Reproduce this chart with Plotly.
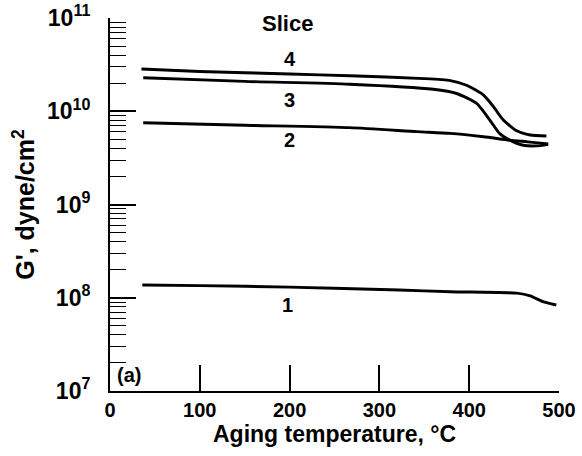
import math
import plotly.graph_objects as go

# Aging temperature (°C) and storage modulus G' (dyne/cm^2) per slice
t1 = [36, 100, 200, 322, 379, 453, 468, 482, 497]
g1 = [1.37e8, 1.35e8, 1.30e8, 1.21e8, 1.16e8, 1.12e8, 1.045e8, 9.08e7, 8.36e7]

t2 = [37, 150, 267, 342, 379, 416, 445, 465, 488]
g2 = [7.53e9, 7.08e9, 6.67e9, 6.04e9, 5.79e9, 5.33e9, 4.90e9, 4.70e9, 4.47e9]

t3 = [37, 150, 267, 360, 386, 408, 423, 434, 445, 460, 475, 488]
g3 = [2.29e10, 2.09e10, 1.95e10, 1.72e10, 1.55e10, 1.22e10, 8.05e9, 5.75e9, 4.90e9, 4.32e9, 4.25e9, 4.42e9]

t4 = [35, 100, 200, 267, 350, 379, 397, 416, 427, 438, 453, 468, 486]
g4 = [2.84e10, 2.67e10, 2.51e10, 2.40e10, 2.24e10, 2.13e10, 1.90e10, 1.49e10, 1.12e10, 8.05e9, 6.17e9, 5.56e9, 5.43e9]

series = [(t1, g1), (t2, g2), (t3, g3), (t4, g4)]
slice_labels = ["1", "2", "3", "4"]
label_x = [198, 200, 200, 200]
label_y = [8.3e7, 4.9e9, 1.32e10, 3.63e10]

xticks = [0, 100, 200, 300, 400, 500]
ydecades = [7, 8, 9, 10, 11]

FONT = "Liberation Sans, Arial, sans-serif"

fig = go.Figure()
for t, g in series:
    fig.add_trace(go.Scatter(x=t, y=g, mode="lines",
                             line=dict(color="black", width=2.9, shape="spline", smoothing=0.6),
                             showlegend=False, hoverinfo="skip"))

minor_vals = [m * 10 ** d for d in ydecades[:-1] for m in range(2, 10)]

fig.update_layout(
    width=582, height=456,
    margin=dict(l=110, r=23, t=18, b=65),
    paper_bgcolor="white", plot_bgcolor="white",
    font=dict(family=FONT, color="black", weight="bold"),
    xaxis=dict(range=[0, 500], tickvals=xticks, ticks="inside", ticklen=26, tickwidth=1.7,
               tickcolor="black", showline=True, linecolor="black", linewidth=2,
               showgrid=False, zeroline=False, automargin=False,
               tickfont=dict(size=20, weight="bold"), ticklabelstandoff=0,
               title=dict(text="Aging temperature, °C", font=dict(size=23, weight="bold"), standoff=4)),
    yaxis=dict(type="log", range=[7, 11],
               tickvals=[10 ** d for d in ydecades],
               ticktext=[f"10<sup>{d}</sup>" for d in ydecades],
               ticks="inside", ticklen=26, tickwidth=1.7, tickcolor="black",
               showline=True, linecolor="black", linewidth=2, showgrid=False, zeroline=False,
               automargin=False,
               tickfont=dict(size=23, weight="bold"), ticklabelstandoff=13,
               minor=dict(tickvals=minor_vals, ticks="inside", ticklen=16, tickwidth=1.4,
                          tickcolor="black", showgrid=False),
               title=dict(text="G', dyne/cm<sup>2</sup>", font=dict(size=25, weight="bold"), standoff=5)),
)

for lab, lx, ly in zip(slice_labels, label_x, label_y):
    fig.add_annotation(x=lx, y=math.log10(ly), text=lab, showarrow=False,
                       font=dict(size=20, weight="bold", family=FONT))
fig.add_annotation(x=198, y=10.946, text="Slice", showarrow=False,
                   font=dict(size=22, weight="bold", family=FONT))
fig.add_annotation(x=21, y=math.log10(1.5e7), text="(a)", showarrow=False,
                   font=dict(size=20, weight="bold", family=FONT))

fig.write_html("out.html", config={"displayModeBar": False},
               post_script="document.body.style.margin='0';")
